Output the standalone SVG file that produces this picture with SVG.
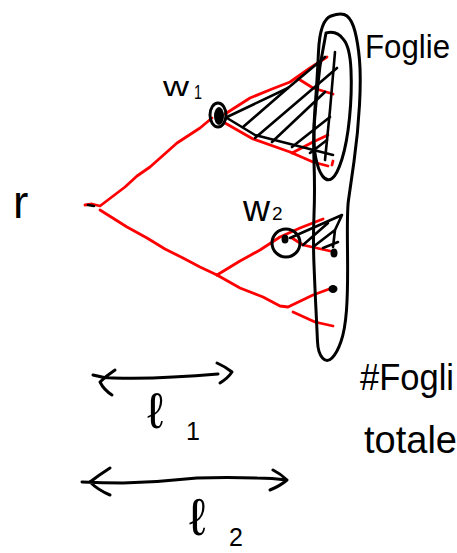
<svg xmlns="http://www.w3.org/2000/svg" width="457" height="553" viewBox="0 0 457 553">
<style>
.k{fill:none;stroke:#000;stroke-width:3;stroke-linecap:round;stroke-linejoin:round}
.h{fill:none;stroke:#000;stroke-width:2.6;stroke-linecap:round;stroke-linejoin:round}
.r{fill:none;stroke:#f00;stroke-width:2.8;stroke-linecap:round;stroke-linejoin:round}
.d{fill:#000;stroke:none}
text{font-family:"Liberation Sans",Arial,sans-serif;fill:#000}
</style>
<rect width="457" height="553" fill="#fff"/>
<g id="connectors">
<path class="r" d="M85 205L92 204L100 206L125 187L137 176L150 167L177 143L200 128L212 118"/>
<path class="r" d="M225 114L250 98L272 89L290 82L310 68L327 57"/>
<path class="r" d="M297 78L313 88L333 94"/>
<path class="r" d="M225 123L253 139L290 152L313 162L328 166M333 161L332 165"/>
<path class="r" d="M292 153L313 142L328 135"/>
<path class="r" d="M100 210L127 227L147 238L165 249L183 258L200 267L217 275"/>
<path class="r" d="M217 275L240 261L260 250L280 237L300 228L323 219"/>
<path class="r" d="M292 238L303 245L330 251"/>
<path class="r" d="M217 275L240 288L263 297L280 306L288 307L313 295L332 288"/>
<path class="r" d="M293 312L315 322L333 326"/>
</g>
<g id="foglie-region">
<path class="k" d="M331 16Q342 12 347 16Q352 20 355 31.5Q358 43 359.5 60Q361 77 359.5 105Q358 133 354 161.5Q350 190 348.5 200Q347 210 347.5 250Q348 290 346.5 310Q345 330 341 341.5Q337 353 332 358Q327 363 322.5 358Q318 353 317.5 341.5Q317 330 316 310Q315 290 314 265Q313 240 314 215Q315 190 314 161.5Q313 133 315 108Q317 83 318.5 51.5Q320 20 331 16Z"/>
</g>
<g id="foglie-w1">
<path class="k" d="M326 33Q337 30 343.5 39.5Q350 47 351 70Q352 93 349.5 118Q347 143 342 159Q337 175 332 178.5Q327 182 322.5 176Q318 170 315.5 156.5Q313 143 314.5 121.5Q316 100 320 66L326 33"/>
</g>
<g id="node-root"><path class="h" d="M88 205L94 206"/></g>
<g id="node-w1">
<ellipse class="k" cx="218" cy="115" rx="8" ry="12"/>
<ellipse class="d" cx="219" cy="116" rx="5" ry="9"/>
</g>
<g id="hatch-w1">
<path class="h" d="M227 117L288 88L325 57"/>
<path class="h" d="M227 118L255 135L333 155"/>
<path class="h" d="M335 52L330 110L325 160"/>
<path class="h" d="M243 127L288 88M255 138L337 68M272 142L325 92M292 147L330 117M310 153L327 140"/>
</g>
<g id="node-w2">
<circle class="k" cx="286" cy="243" r="14"/>
<ellipse class="d" cx="285" cy="239" rx="3.5" ry="4.5"/>
</g>
<g id="hatch-w2">
<path class="h" d="M290 238L342 215L335 230L333 247M303 245L328 223M313 247L335 230M323 248L338 242"/>
</g>
<g id="leaf-1"><ellipse class="d" cx="334" cy="253" rx="3.5" ry="4.5"/></g>
<g id="leaf-2"><ellipse class="d" cx="333" cy="289" rx="4.5" ry="4"/></g>
<g id="arrow-l1">
<path class="k" d="M93 375Q103 378 113 378Q143 379 173 377Q196 376 218 374M217 363Q226 367 232 372Q228 378 220 383M115 370Q106 376 100 382Q104 390 112 395"/>
</g>
<g id="arrow-l2">
<path class="k" d="M82 482Q103 483 123 483Q160 482 197 478Q227 477 257 478Q272 478 287 480M273 470Q281 474 287 480Q280 486 270 490M110 468Q99 475 90 482Q98 490 110 495"/>
</g>
<g id="labels">
<text x="365" y="58" font-size="34" textLength="85" lengthAdjust="spacingAndGlyphs">Foglie</text>
<text x="163" y="96" font-size="28" textLength="26" lengthAdjust="spacingAndGlyphs">w</text>
<text x="194" y="99" font-size="20" textLength="8" lengthAdjust="spacingAndGlyphs">1</text>
<text x="13" y="218" font-size="46">r</text>
<text x="243" y="221" font-size="36" textLength="27" lengthAdjust="spacingAndGlyphs">w</text>
<text x="272" y="220" font-size="19">2</text>
<text x="360" y="390" font-size="36" textLength="94" lengthAdjust="spacingAndGlyphs">#Fogli</text>
<text x="364" y="453" font-size="38" textLength="93" lengthAdjust="spacingAndGlyphs">totale</text>
<text x="147" y="428" font-size="50" font-family="DejaVu Sans">ℓ</text>
<text x="186" y="440" font-size="25">1</text>
<text x="189" y="535" font-size="52" font-family="DejaVu Sans">ℓ</text>
<text x="229" y="546" font-size="25">2</text>
</g>
</svg>
